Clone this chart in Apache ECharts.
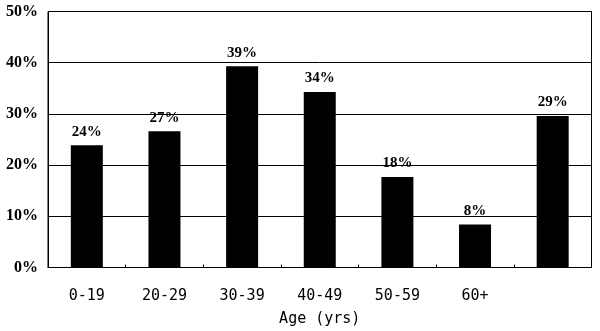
<!DOCTYPE html>
<html><head><meta charset="utf-8">
<script src="https://cdn.jsdelivr.net/npm/echarts@6/dist/echarts.min.js"></script>
<style>html,body{margin:0;padding:0;background:#fff}#c{width:600px;height:331px}</style>
</head><body><div id="c"></div>
<script>
const categories = ["0-19", "20-29", "30-39", "40-49", "50-59", "60+", ""];
const values = [23.9, 26.6, 39.3, 34.3, 17.7, 8.4, 29.6];
const valueLabels = ["24%", "27%", "39%", "34%", "18%", "8%", "29%"];
const yTicks = [0, 10, 20, 30, 40, 50];

const chart = echarts.init(document.getElementById('c'), null, {renderer: 'canvas'});
chart.setOption({
  animation: false,
  backgroundColor: '#fff',
  grid: {left: 48, right: 8.5, top: 11.5, bottom: 63.5, show: true, borderColor: '#000', borderWidth: 1,
    containLabel: false, outerBoundsMode: 'none'},
  xAxis: {
    type: 'category', data: categories,
    name: 'Age (yrs)', nameLocation: 'middle', nameGap: 44,
    nameTextStyle: {fontFamily: 'DejaVu Sans Mono', fontSize: 15, color: '#000'},
    axisLine: {lineStyle: {color: '#000', width: 1}},
    axisTick: {show: true, inside: true, length: 3, lineStyle: {color: '#000'}},
    axisLabel: {fontFamily: 'DejaVu Sans Mono', fontSize: 15, color: '#000', margin: 21}
  },
  yAxis: {
    type: 'value', min: yTicks[0], max: yTicks[yTicks.length - 1], interval: 10,
    axisLine: {show: true, lineStyle: {color: '#000'}},
    axisTick: {show: false},
    splitLine: {lineStyle: {color: '#000', width: 1}},
    axisLabel: {fontFamily: 'Liberation Serif', fontWeight: 'bold', fontSize: 16, color: '#000', margin: 10,
      formatter: v => v + '%'}
  },
  series: [{
    type: 'bar', data: values, barWidth: 32,
    itemStyle: {color: '#000'},
    label: {show: true, position: 'top', distance: 6, formatter: p => valueLabels[p.dataIndex],
      fontFamily: 'Liberation Serif', fontWeight: 'bold', fontSize: 15, color: '#000'}
  }]
});
</script></body></html>
